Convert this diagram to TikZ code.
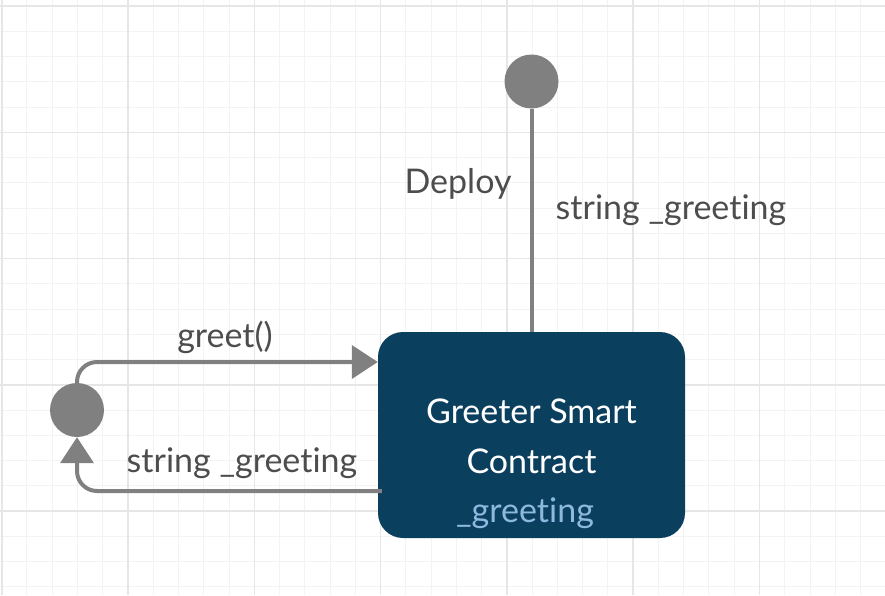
\documentclass[tikz,border=0pt]{standalone}
\usepackage{fontspec}
\setmainfont{Lato}[Ligatures={NoCommon}]
\usetikzlibrary{arrows.meta}
\definecolor{gridminor}{HTML}{F3F3F3}
\definecolor{gridmajor}{HTML}{E6E6E6}
\definecolor{statefill}{HTML}{0B3F5E}
\definecolor{wire}{HTML}{808080}
\definecolor{labeltext}{HTML}{4D4D4D}
\definecolor{attrtext}{HTML}{8DB8E0}

\begin{document}
\begin{tikzpicture}[x=1pt,y=-1pt]
\tikzstyle{pseudo} = [fill=wire, shape=circle, minimum size=54pt, inner sep=0pt]
\tikzstyle{state} = [fill=statefill, rounded corners=25pt, minimum width=307pt, minimum height=206pt]
\tikzstyle{trans} = [draw=wire, line width=4pt, rounded corners=20pt]
\tikzstyle{lbl} = [text=labeltext, font=\fontsize{34}{40}\selectfont, inner sep=0pt]
\useasboundingbox (0,0) rectangle (885,595);

% grid
\foreach \i in {0,...,34} \draw [gridminor, line width=1pt] (1.7+25.26*\i, 0) -- ++(0, 595);
\foreach \j in {0,...,23} \draw [gridminor, line width=1pt] (0, 6+25.26*\j) -- ++(885, 0);
\foreach \i in {0,...,6} \draw [gridmajor, line width=1.6pt] (1.7+126.3*\i, 0) -- ++(0, 595);
\foreach \j in {0,...,4} \draw [gridmajor, line width=1.6pt] (0, 6+126.3*\j) -- ++(885, 0);

\node [pseudo] (t) at (531.5, 81.5) {};
\node [pseudo] (l) at (77, 410) {};
\node [state] (c) at (531.5, 435) {};
\node [text=white, font=\fontsize{34}{50}\selectfont, align=center, inner sep=0pt] (cn) at (531.5, 436) {Greeter Smart\\Contract};
\node [text=attrtext, font=\fontsize{34}{40}\selectfont, inner sep=0pt] (ca) at (525, 513) {\_greeting};

\draw [trans] (t) -- (c);
\draw [trans, -{Triangle[length=26pt,width=33pt]}] (l.north) |- ([yshift=73pt]c.west);
\draw [trans, -{Triangle[length=26pt,width=33pt]}] ([xshift=4pt,yshift=-56pt]c.west) -| (l.south);

\node [lbl] (g) at (225, 337) {greet()};
\node [lbl] (s) at (242, 463) {string \_greeting};
\node [lbl] (d) at (458, 184) {Deploy};
\node [lbl] (p) at (671, 210) {string \_greeting};

\end{tikzpicture}
\end{document}
